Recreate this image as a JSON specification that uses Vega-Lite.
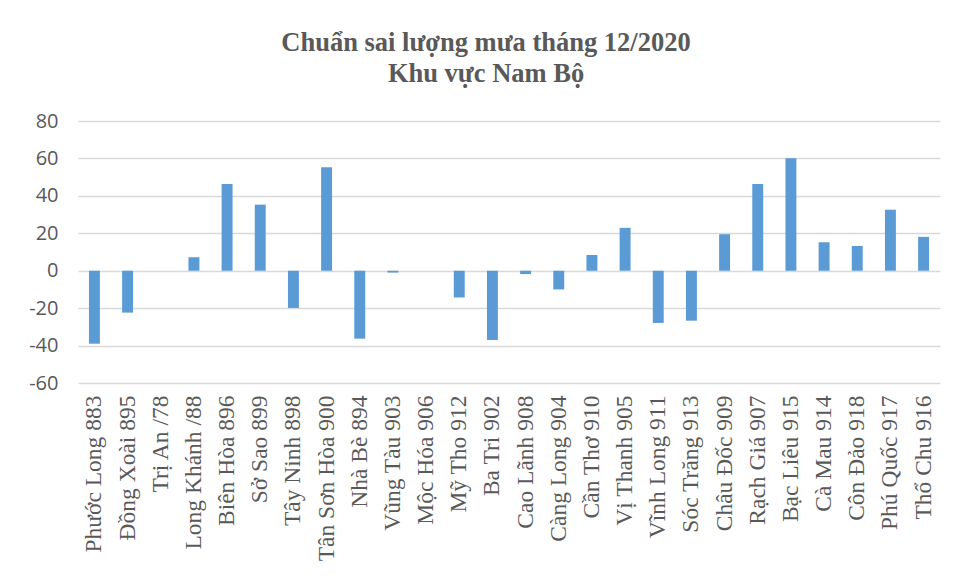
{
  "$schema": "https://vega.github.io/schema/vega-lite/v6.json",
  "width": 862,
  "height": 262,
  "autosize": "none",
  "padding": {"left": 78, "top": 121, "right": 20, "bottom": 197},
  "background": "white",
  "title": {
    "text": ["Chuẩn sai lượng mưa tháng 12/2020", "Khu vực Nam Bộ"],
    "font": "Liberation Serif",
    "fontSize": 26.5,
    "fontWeight": "bold",
    "color": "#595959",
    "lineHeight": 31,
    "anchor": "middle",
    "dx": -23,
    "offset": 24
  },
  "data": {
    "values": [
      {"station": "Phước Long 883", "value": -39.0},
      {"station": "Đồng Xoài 895", "value": -22.4},
      {"station": "Trị An /78", "value": 0},
      {"station": "Long Khánh /88", "value": 7.2},
      {"station": "Biên Hòa 896", "value": 46.4},
      {"station": "Sở Sao 899", "value": 35.3},
      {"station": "Tây Ninh 898", "value": -19.9},
      {"station": "Tân Sơn Hòa 900", "value": 55.3},
      {"station": "Nhà Bè 894", "value": -36.3},
      {"station": "Vũng Tàu 903", "value": -1.0},
      {"station": "Mộc Hóa 906", "value": 0},
      {"station": "Mỹ Tho 912", "value": -14.3},
      {"station": "Ba Tri 902", "value": -37.0},
      {"station": "Cao Lãnh 908", "value": -1.8},
      {"station": "Càng Long 904", "value": -10.0},
      {"station": "Cần Thơ 910", "value": 8.4},
      {"station": "Vị Thanh 905", "value": 22.9},
      {"station": "Vĩnh Long 911", "value": -27.9},
      {"station": "Sóc Trăng 913", "value": -26.7},
      {"station": "Châu Đốc 909", "value": 19.5},
      {"station": "Rạch Giá 907", "value": 46.4},
      {"station": "Bạc Liêu 915", "value": 60.1},
      {"station": "Cà Mau 914", "value": 15.2},
      {"station": "Côn Đảo 918", "value": 13.2},
      {"station": "Phú Quốc 917", "value": 32.6},
      {"station": "Thổ Chu 916", "value": 18.1}
    ]
  },
  "mark": {"type": "bar", "color": "#5b9bd5"},
  "encoding": {
    "x": {
      "field": "station",
      "type": "nominal",
      "sort": null,
      "scale": {"paddingInner": 0.67, "paddingOuter": 0.33},
      "axis": {
        "title": null,
        "orient": "bottom",
        "domain": false,
        "ticks": false,
        "labelAngle": -90,
        "labelAlign": "right",
        "labelBaseline": "middle",
        "labelFont": "Liberation Serif",
        "labelFontSize": 23.5,
        "labelColor": "#595959",
        "labelPadding": 12
      }
    },
    "y": {
      "field": "value",
      "type": "quantitative",
      "scale": {"domain": [-60, 80], "nice": false},
      "axis": {
        "title": null,
        "values": [-60, -40, -20, 0, 20, 40, 60, 80],
        "domain": false,
        "ticks": false,
        "grid": true,
        "gridColor": "#d9d9d9",
        "gridWidth": 1.3,
        "labelFont": "Open Sans",
        "labelFontSize": 20,
        "labelColor": "#595959",
        "labelPadding": 20,
        "labelExpr": "'' + datum.value"
      }
    }
  },
  "config": {"view": {"stroke": null}}
}
